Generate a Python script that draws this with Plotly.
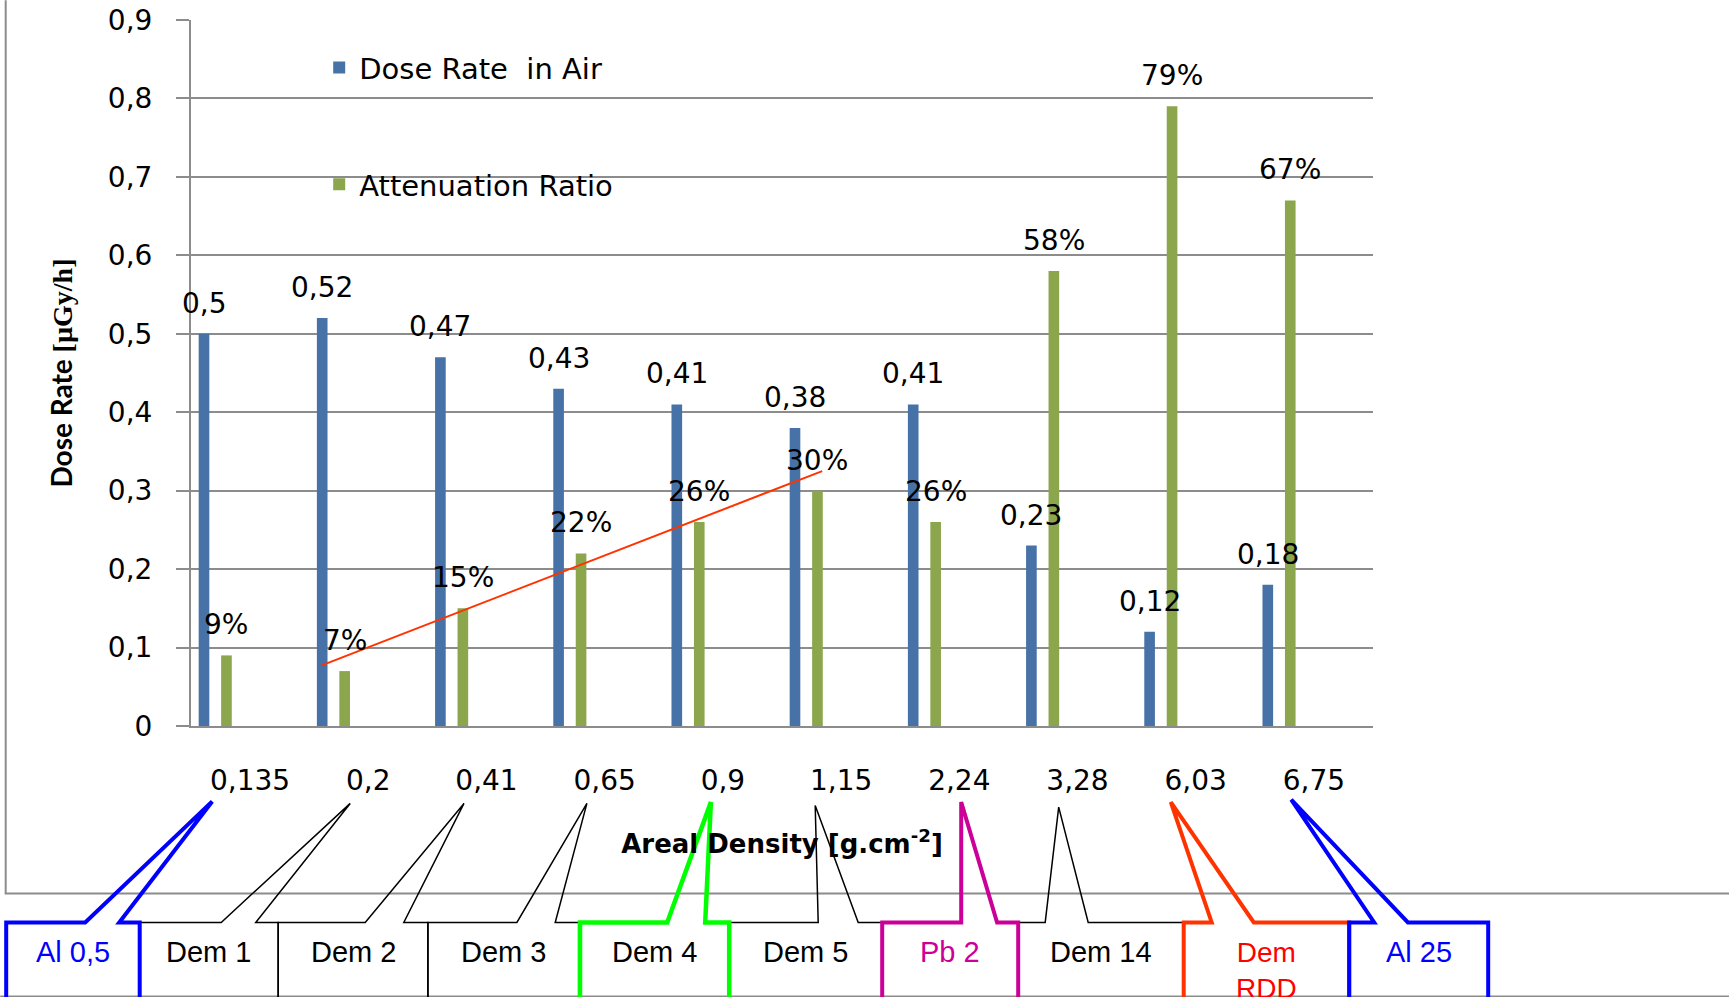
import plotly.graph_objects as go

# ---- data -------------------------------------------------------------
areal_density = ["0,135", "0,2", "0,41", "0,65", "0,9", "1,15", "2,24", "3,28", "6,03", "6,75"]
dose_rate_air = [0.50, 0.52, 0.47, 0.43, 0.41, 0.38, 0.41, 0.23, 0.12, 0.18]
attenuation_ratio = [0.09, 0.07, 0.15, 0.22, 0.26, 0.30, 0.26, 0.58, 0.79, 0.67]
y_tick_values = [0, 0.1, 0.2, 0.3, 0.4, 0.5, 0.6, 0.7, 0.8, 0.9]
y_tick_labels = ["0", "0,1", "0,2", "0,3", "0,4", "0,5", "0,6", "0,7", "0,8", "0,9"]
trend_x = [0.60, 4.84]
trend_y = [0.077, 0.325]
materials = ["Al 0,5", "Dem 1", "Dem 2", "Dem 3", "Dem 4", "Dem 5", "Pb 2", "Dem 14", "Dem<br>RDD", "Al 25"]

# ---- geometry ---------------------------------------------------------
W, H = 1729, 997
PL, PR, PT, PB = 190.8, 1372.8, 19.8, 725.6   # plot area in pixels
PW, PH = PR - PL, PB - PT
GRID = "#8c8c8c"
BLUE, GREEN = "#4672a8", "#8ba64c"
BAR_W = 0.09
BLUE_OFF, GREEN_OFF = -0.435, -0.245
FONT = "DejaVu Sans"


def fx(px):
    return (px - PL) / PW


def fy(py):
    return (PB - py) / PH


x = list(range(len(areal_density)))

fig = go.Figure()
fig.add_trace(go.Bar(
    x=x, y=dose_rate_air, width=BAR_W, offset=BLUE_OFF,
    marker=dict(color=BLUE, line=dict(width=0)),
    name="Dose Rate  in Air", legendgroup="a",
))
fig.add_trace(go.Bar(
    x=x, y=attenuation_ratio, width=BAR_W, offset=GREEN_OFF,
    marker=dict(color=GREEN, line=dict(width=0)),
    name="Attenuation Ratio", legendgroup="b",
))
fig.add_trace(go.Scatter(
    x=trend_x, y=trend_y, mode="lines",
    line=dict(color="#ff3300", width=2), showlegend=False, hoverinfo="skip",
))

annotations = []
for i, v in enumerate(dose_rate_air):
    annotations.append(dict(
        x=i + BLUE_OFF + BAR_W / 2, y=v, xref="x", yref="y",
        text=f"{v:g}".replace(".", ","), showarrow=False,
        yanchor="bottom", yshift=12, font=dict(size=28, color="black", family=FONT),
    ))
for i, v in enumerate(attenuation_ratio):
    annotations.append(dict(
        x=i + GREEN_OFF + BAR_W / 2, y=v, xref="x", yref="y",
        text=f"{v * 100:.0f}%", showarrow=False,
        yanchor="bottom", yshift=12, font=dict(size=28, color="black", family=FONT),
    ))

# ---- frame lines around the chart -------------------------------------
shapes = [
    dict(type="line", xref="paper", yref="paper", x0=fx(5.5), y0=fy(0), x1=fx(5.5), y1=fy(893),
         line=dict(color=GRID, width=2)),
    dict(type="line", xref="paper", yref="paper", x0=fx(4.5), y0=fy(893), x1=fx(W), y1=fy(893),
         line=dict(color=GRID, width=2)),
    dict(type="line", xref="paper", yref="paper", x0=fx(0), y0=fy(996), x1=fx(W), y1=fy(996),
         line=dict(color=GRID, width=2)),
]

# ---- callout boxes naming each sample ---------------------------------
# (label index, line colour, text colour, width, left, right, base a, tip, base b)
BOX_TOP, BOX_BOTTOM = 922, 1010
callouts = [
    (1, "black", "black", 1.5, 139.5, 278.0, 221.0, (350.0, 803.0), 255.5),
    (2, "black", "black", 1.5, 278.0, 427.7, 365.0, (463.8, 803.0), 403.6),
    (3, "black", "black", 1.5, 427.7, 578.5, 516.7, (586.7, 803.0), 555.0),
    (5, "black", "black", 1.5, 729.0, 882.0, 818.0, (815.0, 805.0), 858.0),
    (7, "black", "black", 1.5, 1018.0, 1183.5, 1045.0, (1058.5, 806.7), 1088.0),
    (0, "#0000ff", "#0000ff", 4, 6.0, 139.5, 85.0, (212.0, 801.0), 119.0),
    (4, "#00ff00", "black", 4.5, 579.8, 729.0, 667.0, (710.7, 801.7), 705.0),
    (6, "#cc0099", "#cc0099", 4, 882.0, 1018.0, 961.0, (961.0, 801.7), 996.9),
    (8, "#ff3300", "#ff0000", 4, 1183.5, 1349.0, 1211.5, (1170.6, 801.7), 1253.6),
    (9, "#0000ff", "#0000ff", 4, 1349.0, 1488.0, 1374.0, (1291.0, 799.3), 1407.7),
]
for idx, lc, tc, lw, left, right, a, tip, b in callouts:
    pts = [(left, BOX_BOTTOM), (left, BOX_TOP), (a, BOX_TOP), tip, (b, BOX_TOP),
           (right, BOX_TOP), (right, BOX_BOTTOM)]
    path = "M " + " L ".join(f"{fx(px):.5f},{fy(py):.5f}" for px, py in pts)
    shapes.append(dict(type="path", xref="paper", yref="paper", path=path,
                       line=dict(color=lc, width=lw)))
    label = materials[idx]
    two_lines = "<br>" in label
    annotations.append(dict(
        x=fx((left + right) / 2), y=fy(952 - (17 if two_lines else 0)), xref="paper", yref="paper",
        text=label, showarrow=False, xanchor="center", yanchor="top" if two_lines else "middle",
        font=dict(family="Liberation Sans", size=28 if two_lines else 29, color=tc),
    ))

fig.update_layout(
    width=W, height=H,
    margin=dict(l=PL, r=W - PR, t=PT, b=H - PB, autoexpand=False),
    paper_bgcolor="white", plot_bgcolor="white",
    font=dict(family=FONT, size=28, color="black"),
    barmode="overlay",
    showlegend=True,
    legend=dict(
        x=fx(319), y=fy(42), xanchor="left", yanchor="top",
        font=dict(family=FONT, size=29, color="black"),
        bgcolor="rgba(0,0,0,0)", tracegroupgap=76, traceorder="grouped",
    ),
    xaxis=dict(
        range=[-0.5, 9.5], tickmode="array", tickvals=x, ticktext=areal_density,
        showgrid=False, zeroline=False, showline=True, linecolor=GRID, linewidth=2,
        ticks="", ticklabelstandoff=28,
        tickfont=dict(family=FONT, size=28, color="black"),
        title=dict(text="Areal Density [g.cm<sup>-2</sup>]", standoff=39,
                   font=dict(family=FONT, size=26, color="black", weight="bold")),
        automargin=False,
    ),
    yaxis=dict(
        range=[0, 0.9], tickmode="array", tickvals=y_tick_values, ticktext=y_tick_labels,
        showgrid=True, gridcolor=GRID, gridwidth=2, zeroline=False,
        showline=True, linecolor=GRID, linewidth=2,
        ticks="outside", ticklen=13, tickwidth=2, tickcolor=GRID, ticklabelstandoff=18,
        tickfont=dict(family=FONT, size=28, color="black"),
        title=dict(text="Dose Rate <span style='font-family:Liberation Serif'>[µGy/h]</span>",
                   standoff=27,
                   font=dict(family="Lato", size=28, color="black", weight="bold")),
        automargin=False,
    ),
    shapes=shapes,
    annotations=annotations,
)

fig.write_html("out.html")
